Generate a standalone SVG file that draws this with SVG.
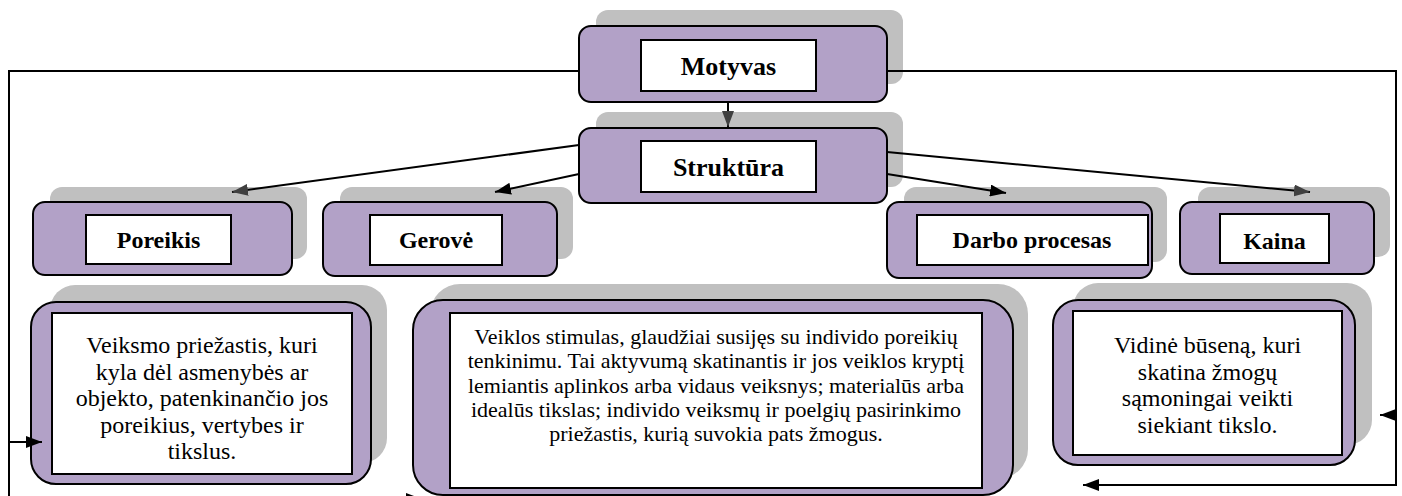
<svg xmlns="http://www.w3.org/2000/svg" width="1402" height="496" viewBox="0 0 1402 496">
<style>
.shadow{fill:#c0c0c0}
.box{fill:#b2a1c7;stroke:#000;stroke-width:2}
.inner{fill:#fff;stroke:#000;stroke-width:2}
.lbl{font-family:"Liberation Serif","Times New Roman",serif;font-weight:bold;font-size:24px;text-anchor:middle;fill:#000}
.big{font-size:26px}
.desc{font-family:"Liberation Serif","Times New Roman",serif;font-size:24px;text-anchor:middle;fill:#000}
.small{font-size:22px}
.conn{fill:none;stroke:#000;stroke-width:2}
</style>
<defs>
<marker id="ab" viewBox="0 0 16 12" refX="16" refY="6" markerWidth="16" markerHeight="12" orient="auto" markerUnits="userSpaceOnUse"><path d="M0,0 L16,6 L0,12 z" fill="#000"/></marker>
<marker id="ag" viewBox="0 0 16 12" refX="16" refY="6" markerWidth="16" markerHeight="12" orient="auto" markerUnits="userSpaceOnUse"><path d="M0,0 L16,6 L0,12 z" fill="#404040"/></marker>
</defs>
<rect width="1402" height="496" fill="#fff"/>

<g id="motyvas">
<rect class="shadow" x="596" y="10" width="307" height="74" rx="12"/>
<rect class="box" x="579" y="26" width="308" height="76" rx="12"/>
<rect class="inner" x="641" y="40" width="175" height="51"/>
<text class="lbl big" x="728.5" y="75">Motyvas</text>
</g>

<g id="struktura">
<rect class="shadow" x="596" y="112" width="307" height="75" rx="12"/>
<rect class="box" x="579" y="128" width="308" height="75" rx="12"/>
<rect class="inner" x="641" y="141" width="175" height="51"/>
<text class="lbl big" x="728.5" y="176">Struktūra</text>
</g>

<g id="poreikis">
<rect class="shadow" x="50" y="187" width="257" height="72" rx="12"/>
<rect class="box" x="33" y="202" width="259" height="73" rx="12"/>
<rect class="inner" x="86" y="215" width="145" height="49"/>
<text class="lbl" x="158.5" y="248">Poreikis</text>
</g>

<g id="gerove">
<rect class="shadow" x="340" y="187" width="233" height="72" rx="12"/>
<rect class="box" x="323" y="202" width="234" height="74" rx="12"/>
<rect class="inner" x="370" y="215" width="132" height="50"/>
<text class="lbl" x="436" y="248">Gerovė</text>
</g>

<g id="darbo">
<rect class="shadow" x="904" y="187" width="263" height="75" rx="12"/>
<rect class="box" x="887" y="202" width="265" height="76" rx="12"/>
<rect class="inner" x="917" y="215" width="231" height="50"/>
<text class="lbl" x="1032" y="248">Darbo procesas</text>
</g>

<g id="kaina">
<rect class="shadow" x="1198" y="187" width="192" height="70" rx="12"/>
<rect class="box" x="1180" y="202" width="194" height="72" rx="12"/>
<rect class="inner" x="1220" y="214" width="109" height="49"/>
<text class="lbl" x="1274.5" y="249">Kaina</text>
</g>

<g id="poreikis-desc">
<rect class="shadow" x="50" y="285" width="337" height="178" rx="25"/>
<rect class="box" x="31" y="302" width="340" height="182" rx="25"/>
<rect class="inner" x="52" y="313" width="300" height="161"/>
<text class="desc" x="202" y="353">Veiksmo priežastis, kuri</text>
<text class="desc" x="202" y="379.5">kyla dėl asmenybės ar</text>
<text class="desc" x="202" y="406">objekto, patenkinančio jos</text>
<text class="desc" x="202" y="432.5">poreikius, vertybes ir</text>
<text class="desc" x="202" y="459">tikslus.</text>
</g>

<g id="center-desc">
<rect class="shadow" x="430" y="284" width="598" height="195" rx="30"/>
<rect class="box" x="413" y="300" width="600" height="195" rx="30"/>
<rect class="inner" x="450" y="313" width="532" height="175"/>
<text class="desc small" x="716" y="344">Veiklos stimulas, glaudžiai susijęs su individo poreikių</text>
<text class="desc small" x="716" y="368.3">tenkinimu. Tai aktyvumą skatinantis ir jos veiklos kryptį</text>
<text class="desc small" x="716" y="392.6">lemiantis aplinkos arba vidaus veiksnys; materialūs arba</text>
<text class="desc small" x="716" y="416.9">idealūs tikslas; individo veiksmų ir poelgių pasirinkimo</text>
<text class="desc small" x="716" y="441.2">priežastis, kurią suvokia pats žmogus.</text>
</g>

<g id="kaina-desc">
<rect class="shadow" x="1073" y="283" width="299" height="162" rx="25"/>
<rect class="box" x="1053" y="300" width="302" height="165" rx="25"/>
<rect class="inner" x="1073" y="311" width="269" height="144"/>
<text class="desc" x="1207.5" y="353">Vidinė būseną, kuri</text>
<text class="desc" x="1207.5" y="379.5">skatina žmogų</text>
<text class="desc" x="1207.5" y="406">sąmoningai veikti</text>
<text class="desc" x="1207.5" y="432.5">siekiant tikslo.</text>
</g>

<g id="connectors">
<path class="conn" d="M728,102 L728,127" marker-end="url(#ag)"/>
<path class="conn" d="M579,145 L232,192" marker-end="url(#ag)"/>
<path class="conn" d="M579,174 L495,192" marker-end="url(#ab)"/>
<path class="conn" d="M887,174 L1006,193" marker-end="url(#ab)"/>
<path class="conn" d="M887,152 L1310,192" marker-end="url(#ag)"/>
<path class="conn" d="M579,71 H9 V500"/>
<path class="conn" d="M9,442 H42" marker-end="url(#ab)"/>
<path class="conn" d="M9,499 H422" marker-end="url(#ab)"/>
<path class="conn" d="M887,71 H1396 V485 H1083" marker-end="url(#ab)"/>
<path class="conn" d="M1396,415 H1380" marker-end="url(#ab)"/>
</g>
</svg>
